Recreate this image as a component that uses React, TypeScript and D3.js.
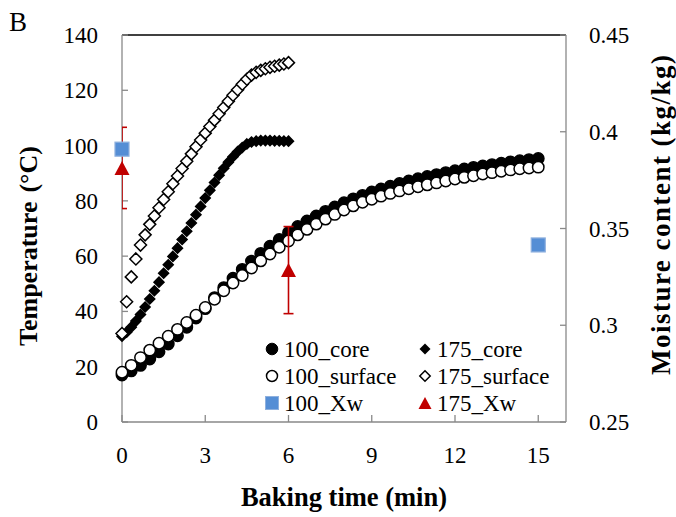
import * as d3 from 'd3';
import * as React from 'react';

// baking time in seconds
const time100 = [0, 20, 40, 60, 80, 100, 120, 140, 160, 180, 200, 220, 240, 260, 280, 300, 320, 340, 360, 380,
  400, 420, 440, 460, 480, 500, 520, 540, 560, 580, 600, 620, 640, 660, 680, 700, 720, 740, 760, 780,
  800, 820, 840, 860, 880, 900];
const core100 = [17, 18.5, 20.5, 22.8, 25.4, 28.2, 31.2, 34.3, 37.6, 41, 45, 48.6, 52, 55.2, 58.2, 61, 63.6, 66,
  68.5, 70.7, 72.7, 74.5, 76.2, 77.8, 79.3, 80.7, 82, 83.2, 84.3, 85.3, 86.3, 87.2, 88, 88.8, 89.5, 90.2,
  90.9, 91.5, 92.1, 92.6, 93.1, 93.6, 94.1, 94.5, 94.9, 95.3];
const surface100 = [18, 20.5, 23.3, 26, 28.5, 31, 33.5, 36, 38.6, 41.4, 44.4, 47.5, 50.3, 53, 55.7, 58.3, 60.8,
  63.2, 65.5, 67.7, 69.7, 71.6, 73.4, 75.1, 76.7, 78.2, 79.5, 80.6, 81.7, 82.7, 83.6, 84.4, 85.1, 85.8,
  86.5, 87.2, 87.9, 88.5, 89.1, 89.7, 90.2, 90.7, 91.2, 91.6, 91.9, 92.2];

const time175 = [0, 10, 20, 30, 40, 50, 60, 70, 80, 90, 100, 110, 120, 130, 140, 150, 160, 170, 180, 190, 200,
  210, 220, 230, 240, 250, 260, 270, 280, 290, 300, 310, 320, 330, 340, 350, 360];
const core175 = [31, 32.5, 34.3, 36.5, 38.9, 41.6, 44.5, 47.5, 50.6, 53.8, 56.9, 59.9, 62.9, 66, 69, 72, 75, 78,
  81, 83.8, 86.6, 89.3, 91.8, 94, 96, 97.8, 99.3, 100.6, 101.3, 101.6, 101.8, 101.8, 101.8, 101.7, 101.7,
  101.6, 101.6];
const surface175 = [32, 43.5, 52.5, 59, 64, 67.7, 71.5, 74.5, 77.5, 80.5, 83.3, 86.2, 89, 91.7, 94.3, 97, 99.6,
  102, 104.5, 106.9, 109.2, 111.5, 113.8, 116, 118.2, 120.2, 122.2, 124, 125.5, 126.5, 127.2, 127.8, 128.3,
  128.7, 129.1, 129.5, 130];

// moisture content (kg/kg), time in minutes
const xwTime100 = [0, 15];
const xw100 = [0.391, 0.3415];
const xwErr100 = [0.002, 0.002];
const xwTime175 = [0, 6];
const xw175 = [0.3813, 0.3285];
const xwErr175 = [0.021, 0.0225];

const xTicks = [0, 3, 6, 9, 12, 15];
const yTicks = [0, 20, 40, 60, 80, 100, 120, 140];
const y2Ticks = [0.25, 0.3, 0.35, 0.4, 0.45];

const FONT = '"Liberation Serif", "Times New Roman", serif';
const AXIS = '#898989';
const BLUE = '#558ed5';
const RED = '#c00000';

const W = 676;
const H = 517;
const left = 122;
const right = 566;
const top = 35;
const bottom = 422;

const diamond = (h: number) => `M0,${-h}L${h},0L0,${h}L${-h},0Z`;
const triangle = (w: number, h: number) => `M0,${-h / 2}L${w / 2},${h / 2}L${-w / 2},${h / 2}Z`;

export default function App() {
  const x = d3.scaleLinear().domain([0, 16]).range([left, right]);
  const y = d3.scaleLinear().domain([0, 140]).range([bottom, top]);
  const y2 = d3.scaleLinear().domain([0.25, 0.45]).range([bottom, top]);

  const circles = (ts: number[], vs: number[], filled: boolean) =>
    vs.map((v, i) => (
      <circle key={i} cx={x(ts[i] / 60)} cy={y(v)} r={5.7}
        fill={filled ? '#000' : '#fff'} stroke='#000' strokeWidth={1.5} />
    ));

  const diamonds = (ts: number[], vs: number[], filled: boolean) =>
    vs.map((v, i) => (
      <path key={i} d={diamond(filled ? 5 : 6)}
        transform={`translate(${x(ts[i] / 60)},${y(v)})`}
        fill={filled ? '#000' : '#fff'} stroke='#000' strokeWidth={1.5} />
    ));

  const errBars = (ts: number[], vs: number[], es: number[], color: string) =>
    vs.map((v, i) => {
      const cx = x(ts[i]);
      const y0 = y2(v + es[i]);
      const y1 = y2(v - es[i]);
      return (
        <g key={i} stroke={color} strokeWidth={1.6}>
          <line x1={cx} x2={cx} y1={y0} y2={y1} />
          <line x1={cx - 5} x2={cx + 5} y1={y0} y2={y0} />
          <line x1={cx - 5} x2={cx + 5} y1={y1} y2={y1} />
        </g>
      );
    });

  const legendRows = [349, 376, 403];
  const legendCols = [272, 425];
  const legendText = [['100_core', '175_core'], ['100_surface', '175_surface'], ['100_Xw', '175_Xw']];

  const legendMarker = (r: number, c: number) => {
    const lx = legendCols[c];
    const ly = legendRows[r];
    if (r === 0 && c === 0) return <circle cx={lx} cy={ly} r={5.8} fill='#000' stroke='#000' />;
    if (r === 1 && c === 0) return <circle cx={lx} cy={ly} r={5.5} fill='#fff' stroke='#000' strokeWidth={1.5} />;
    if (r === 2 && c === 0)
      return <rect x={lx - 6.5} y={ly - 6.5} width={13} height={13} fill={BLUE} stroke='#8eb0de' strokeWidth={1} />;
    if (r === 0 && c === 1) return <path d={diamond(5.5)} transform={`translate(${lx},${ly})`} fill='#000' />;
    if (r === 1 && c === 1)
      return <path d={diamond(5.2)} transform={`translate(${lx},${ly})`} fill='#fff' stroke='#000' strokeWidth={1.5} />;
    return <path d={triangle(13, 12)} transform={`translate(${lx},${ly})`} fill={RED} />;
  };

  return (
    <svg width={W} height={H} style={{ position: 'absolute', left: 0, top: 0, background: '#fff' }}
      fontFamily={FONT}>
      <defs>
        <clipPath id='plot'>
          <rect x={left} y={top - 10} width={right - left} height={bottom - top + 10} />
        </clipPath>
      </defs>

      <text x={9} y={31} fontSize={27}>B</text>

      {/* axes */}
      <line x1={left} x2={right} y1={top} y2={top} stroke='#000' strokeWidth={1.6} />
      <line x1={left} x2={left} y1={top} y2={bottom} stroke={AXIS} strokeWidth={1.3} />
      <line x1={right} x2={right} y1={top} y2={bottom} stroke={AXIS} strokeWidth={1.3} />
      <line x1={left} x2={right} y1={bottom} y2={bottom} stroke={AXIS} strokeWidth={1.3} />

      {yTicks.map((t) => (
        <g key={t}>
          <line x1={left} x2={left + 6} y1={y(t)} y2={y(t)} stroke={AXIS} strokeWidth={1.3} />
          <text x={98} y={y(t)} dy='0.35em' textAnchor='end' fontSize={23}>{t}</text>
        </g>
      ))}
      {y2Ticks.map((t) => (
        <g key={t}>
          <line x1={right - 6} x2={right} y1={y2(t)} y2={y2(t)} stroke={AXIS} strokeWidth={1.3} />
          <text x={589} y={y2(t)} dy='0.35em' fontSize={23}>{d3.format('~g')(t)}</text>
        </g>
      ))}
      {xTicks.map((t) => (
        <g key={t}>
          <line x1={x(t)} x2={x(t)} y1={bottom} y2={bottom - 7} stroke={AXIS} strokeWidth={1.3} />
          <text x={x(t)} y={455} dy='0.35em' textAnchor='middle' fontSize={23}>{t}</text>
        </g>
      ))}

      <text x={344} y={497} dy='0.35em' textAnchor='middle' fontSize={26.5} fontWeight='bold'>
        Baking time (min)
      </text>
      <text transform='translate(28,346) rotate(-90)' dy='0.35em' fontSize={26} fontWeight='bold'>
        <tspan>Temperature</tspan>
        <tspan dx={9}>(°C)</tspan>
      </text>
      <text transform='translate(661,215) rotate(-90)' dy='0.35em' textAnchor='middle'
        fontSize={27} fontWeight='bold' textLength={320} lengthAdjust='spacing'>
        Moisture content (kg/kg)
      </text>

      {/* temperature series */}
      <g>{circles(time100, core100, true)}</g>
      <g>{circles(time100, surface100, false)}</g>
      <g>{diamonds(time175, core175, true)}</g>
      <g>{diamonds(time175, surface175, false)}</g>

      {/* moisture series */}
      <g clipPath='url(#plot)'>{errBars(xwTime175, xw175, xwErr175, RED)}</g>
      <g clipPath='url(#plot)'>{errBars(xwTime100, xw100, xwErr100, '#3a6aa8')}</g>
      {xw175.map((v, i) => (
        <path key={i} d={triangle(15, 14)} transform={`translate(${x(xwTime175[i])},${y2(v)})`} fill={RED} />
      ))}
      {xw100.map((v, i) => (
        <rect key={i} x={x(xwTime100[i]) - 7} y={y2(v) - 7} width={14} height={14}
          fill={BLUE} stroke='#8eb0de' strokeWidth={1.2} />
      ))}

      {/* legend */}
      {legendText.map((row, r) =>
        row.map((label, c) => (
          <g key={`${r}-${c}`}>
            {legendMarker(r, c)}
            <text x={legendCols[c] + 12} y={legendRows[r]} dy='0.35em' fontSize={23}>{label}</text>
          </g>
        ))
      )}
    </svg>
  );
}
